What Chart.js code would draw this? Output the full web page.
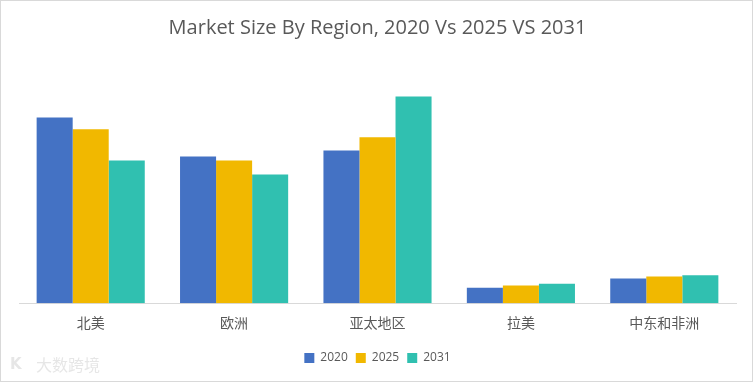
<!DOCTYPE html>
<html>
<head>
<meta charset="utf-8">
<script src="https://cdn.jsdelivr.net/npm/chart.js@4/dist/chart.umd.min.js"></script>
<style>
html,body{margin:0;padding:0;background:#fff;}
#wrap{width:753px;height:382px;position:relative;}
</style>
</head>
<body>
<div id="wrap"><canvas id="c" width="753" height="382"></canvas></div>
<script>
const categories = ['北美', '欧洲', '亚太地区', '拉美', '中东和非洲'];
const seriesNames = ['2020', '2025', '2031'];
const values2020 = [185.5, 146.5, 152.5, 15.5, 24.8];
const values2025 = [173.8, 142.5, 165.8, 17.8, 26.8];
const values2031 = [142.5, 128.5, 206.5, 19.5, 27.8];
const colors = ['#4472C4', '#F1B800', '#30C0B0'];
const titleText = 'Market Size By Region, 2020 Vs 2025 VS 2031';
const watermarkText = '大数跨境';

const decor = {
  id: 'decor',
  beforeDraw(chart) {
    const ctx = chart.ctx;
    ctx.save();
    ctx.fillStyle = '#fff';
    ctx.fillRect(0, 0, chart.width, chart.height);
    ctx.restore();
  },
  afterDraw(chart) {
    const ctx = chart.ctx;
    ctx.save();
    ctx.strokeStyle = '#d9d9d9';
    ctx.lineWidth = 1;
    ctx.strokeRect(0.5, 0.5, chart.width - 1, chart.height - 1);
    ctx.font = '16px "Noto Sans CJK SC"';
    ctx.fillStyle = 'rgba(200,200,200,0.45)';
    ctx.textBaseline = 'middle';
    ctx.fillText(watermarkText, 36, 365);
    ctx.font = 'bold 15px "DejaVu Sans"';
    ctx.fillText('K', 10, 365);
    ctx.restore();
  }
};

new Chart(document.getElementById('c'), {
  type: 'bar',
  data: {
    labels: categories,
    datasets: [
      { label: seriesNames[0], data: values2020, backgroundColor: colors[0] },
      { label: seriesNames[1], data: values2025, backgroundColor: colors[1] },
      { label: seriesNames[2], data: values2031, backgroundColor: colors[2] }
    ]
  },
  options: {
    responsive: false,
    animation: false,
    layout: { padding: { left: 19, right: 17, top: 0, bottom: 8 } },
    datasets: { bar: { barPercentage: 1.0, categoryPercentage: 0.754 } },
    scales: {
      x: {
        grid: { display: true, drawOnChartArea: false, drawTicks: false },
        border: { display: true, color: '#d9d9d9', width: 1 },
        ticks: { color: '#595959', font: { family: '"Noto Sans CJK SC"', size: 14 }, padding: 11 },
        afterFit(scale) { scale.height += 2; }
      },
      y: {
        display: false,
        min: 0,
        max: 220
      }
    },
    plugins: {
      title: {
        display: true,
        text: titleText,
        color: '#595959',
        font: { family: '"Open Sans"', size: 20, weight: 'normal' },
        padding: { top: 16, bottom: 43 }
      },
      legend: {
        position: 'bottom',
        labels: {
          color: '#595959',
          font: { family: '"Open Sans"', size: 12 },
          boxWidth: 10,
          boxHeight: 10,
          padding: 8
        }
      },
      tooltip: { enabled: false }
    }
  },
  plugins: [decor]
});
</script>
</body>
</html>
